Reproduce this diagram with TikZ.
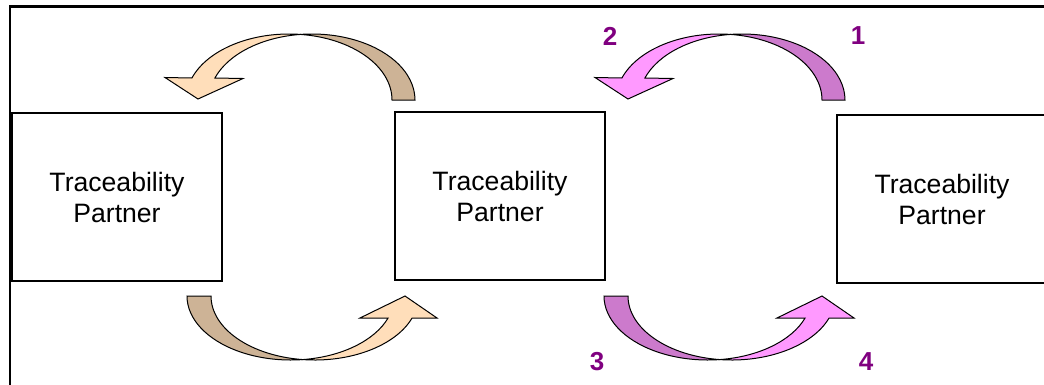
\documentclass[tikz,border=0pt]{standalone}
\usepackage{fontspec}
\setmainfont{Liberation Sans}
\definecolor{peachlight}{HTML}{FFDEBA}
\definecolor{peachdark}{HTML}{CDB396}
\definecolor{pinklight}{HTML}{FF99FF}
\definecolor{pinkdark}{HTML}{CC7ACC}
\definecolor{numpurple}{HTML}{800080}
\tikzset{
  partnerbox/.style={draw=black, line width=1.2pt, fill=white, inner sep=0pt,
    align=center, font=\fontsize{26.6}{31}\selectfont},
  numlabel/.style={text=numpurple, inner sep=0pt, font=\fontsize{26}{30}\selectfont\bfseries},
  arrowline/.style={draw=black, line width=1pt, line join=miter},
  framerule/.style={line width=2.4pt, draw=black}
}
% curved arrow over the top: #1 x shift, #2 back colour, #3 front colour
\newcommand\TopCurveArrow[3]{%
  \begin{scope}[shift={(#1,0)}]
    \filldraw[arrowline, fill=#2] (300.5,34.41)
      arc[start angle=-96.41, end angle=0, x radius=103, y radius=66]
      -- (392,100)
      arc[start angle=0, end angle=-83.59, x radius=103, y radius=66] -- cycle;
    \filldraw[arrowline, fill=#3] (300.5,34.41)
      arc[start angle=-83.59, end angle=-160.53, x radius=103, y radius=66]
      -- (165,77.5) -- (198,99) -- (243,78.5) -- (214.9,78)
      arc[start angle=-160.53, end angle=-96.41, x radius=103, y radius=66] -- cycle;
  \end{scope}}
% curved arrow under the bottom
\newcommand\BottomCurveArrow[3]{%
  \begin{scope}[shift={(#1,0)}]
    \filldraw[arrowline, fill=#2] (187,296)
      arc[start angle=180, end angle=83.35, x radius=103.7, y radius=64]
      arc[start angle=96.65, end angle=180, x radius=103.7, y radius=64] -- cycle;
    \filldraw[arrowline, fill=#3] (302.7,359.57)
      arc[start angle=96.65, end angle=20.11, x radius=103.7, y radius=64]
      -- (437,318) -- (405,296) -- (360,318) -- (388.1,318)
      arc[start angle=20.11, end angle=83.35, x radius=103.7, y radius=64] -- cycle;
  \end{scope}}
\begin{document}
\begin{tikzpicture}[x=1pt, y=-1pt]
  \useasboundingbox (0,0) rectangle (1044,384);
  \fill[white] (0,0) rectangle (1044,384);
  % frame
  \draw[framerule] (10,386) -- (10,6.5) -- (1046,6.5);
  % partners
  \node[partnerbox, minimum width=210pt, minimum height=168pt] (p1) at (117,197) {Traceability\\Partner};
  \node[partnerbox, minimum width=210pt, minimum height=168pt] (p2) at (500,196) {Traceability\\Partner};
  \node[partnerbox, minimum width=210pt, minimum height=168pt] (p3) at (942,199) {Traceability\\Partner};
  % curved arrows
  \TopCurveArrow{0}{peachdark}{peachlight}
  \TopCurveArrow{430}{pinkdark}{pinklight}
  \BottomCurveArrow{0}{peachdark}{peachlight}
  \BottomCurveArrow{417}{pinkdark}{pinklight}
  % step numbers
  \node[numlabel] (n1) at (858,36) {1};
  \node[numlabel] (n2) at (610,36) {2};
  \node[numlabel] (n3) at (597,362) {3};
  \node[numlabel] (n4) at (866,362) {4};
\end{tikzpicture}
\end{document}
